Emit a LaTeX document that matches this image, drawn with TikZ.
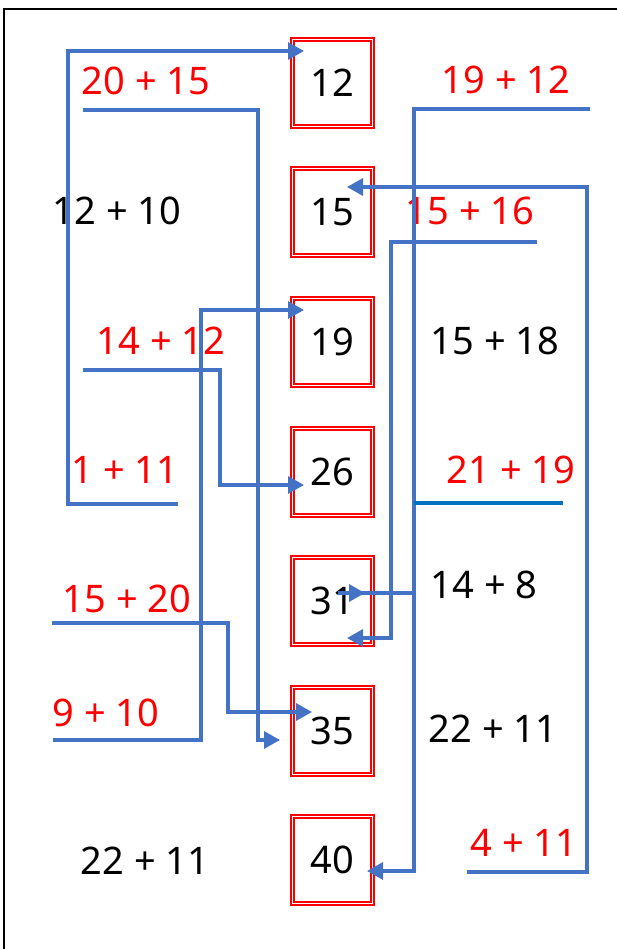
\documentclass[tikz,border=0pt]{standalone}
\usepackage{fontspec}
\setmainfont{Noto Sans}
\usetikzlibrary{arrows.meta}
\definecolor{linkblue}{HTML}{4472C4}
\definecolor{deepblue}{HTML}{0070C0}
\definecolor{hit}{HTML}{FF0000}
\newcommand{\sumfont}{\fontsize{38}{40}\selectfont}
\tikzset{
  sum/.style={text=black, font=\sumfont, inner sep=0pt},
  hitsum/.style={sum, text=hit},
  numbox/.style={draw=hit, double=white, line width=2pt, double distance=1pt,
    minimum width=80pt, minimum height=87pt, inner sep=0pt, outer sep=0pt, font=\sumfont},
  link/.style={draw=linkblue, line width=3.2pt},
  tip/.style={-{Triangle[length=16pt,width=17pt]}},
}

\begin{document}
\begin{tikzpicture}[x=1pt,y=-1pt]
\useasboundingbox (0,0) rectangle (617,949);
\draw[line width=2.2pt] (4,949) -- (4,9) -- (617,9);

% answer boxes
\foreach \v [count=\i from 0] in {12,15,19,26,31,35,40}
  \node[numbox] (b\v) at (332,83+129.5*\i) {\v};

% sums, left
\node[hitsum] (s2015) at (146,81) {20 + 15};
\node[sum] (s1210) at (117,211) {12 + 10};
\node[hitsum] (s1412) at (161,341) {14 + 12};
\node[hitsum] (s111) at (125,470) {1 + 11};
\node[hitsum] (s1520) at (127,599) {15 + 20};
\node[hitsum] (s910) at (106,713) {9 + 10};
\node[sum] (s2211a) at (145,861) {22 + 11};
% sums, right
\node[hitsum] (s1912) at (506,80) {19 + 12};
\node[hitsum] (s1516) at (470,211) {15 + 16};
\node[sum] (s1518) at (495,341) {15 + 18};
\node[hitsum] (s2119) at (511,470) {21 + 19};
\node[sum] (s148) at (484,585) {14 + 8};
\node[sum] (s2211b) at (493,729) {22 + 11};
\node[hitsum] (s411) at (524,843) {4 + 11};

% underline starts
\coordinate (u2015) at (83,110);
\coordinate (u1412) at (83,370);
\coordinate (u111) at (178,504);
\coordinate (u1520) at (52,623);
\coordinate (u910) at (53,740);
\coordinate (u1912) at (590,109);
\coordinate (u1516) at (537,242);
\coordinate (u2119) at (563,503);
\coordinate (u411) at (467,872);
\coordinate (j148) at (414,593);

% arrow ends
\coordinate (a12) at ([xshift=12pt,yshift=32pt]b12.west);
\coordinate (a19) at ([xshift=12pt,yshift=32pt]b19.west);
\coordinate (a26) at ([xshift=12pt,yshift=-13.5pt]b26.west);
\coordinate (a35l) at ([xshift=-12pt,yshift=-9.5pt]b35.west);
\coordinate (a35r) at ([xshift=20pt,yshift=18.5pt]b35.west);
\coordinate (a15) at ([xshift=-25pt,yshift=25.5pt]b15.east);
\coordinate (a31) at ([xshift=-25pt,yshift=-37pt]b31.east);
\coordinate (a40) at ([xshift=-5pt,yshift=-11pt]b40.east);
\coordinate (e31) at ([xshift=-34pt,yshift=8pt]b31.east);

\draw[link, tip] (u111) -- ++(-110,0) |- (a12);
\draw[link, tip] (u2015) -- ++(175,0) |- (a35l);
\draw[link, tip] (u1412) -- ++(137,0) |- (a26);
\draw[link, tip] (u910) -- ++(148,0) |- (a19);
\draw[link, tip] (u1520) -- ++(176,0) |- (a35r);
\draw[link, tip] (u1912) -- ++(-176,0) |- (a40);
\draw[link, tip] (u411) -- ++(120,0) |- (a15);
\draw[link, tip] (u1516) -- ++(-146,0) |- (a31);
\draw[draw=deepblue, line width=4pt] (u2119) -- (u2119 -| j148);
\draw[link] (j148) -- (e31);
\draw[link, tip] (e31) -- ++(27,0);
\end{tikzpicture}
\end{document}
